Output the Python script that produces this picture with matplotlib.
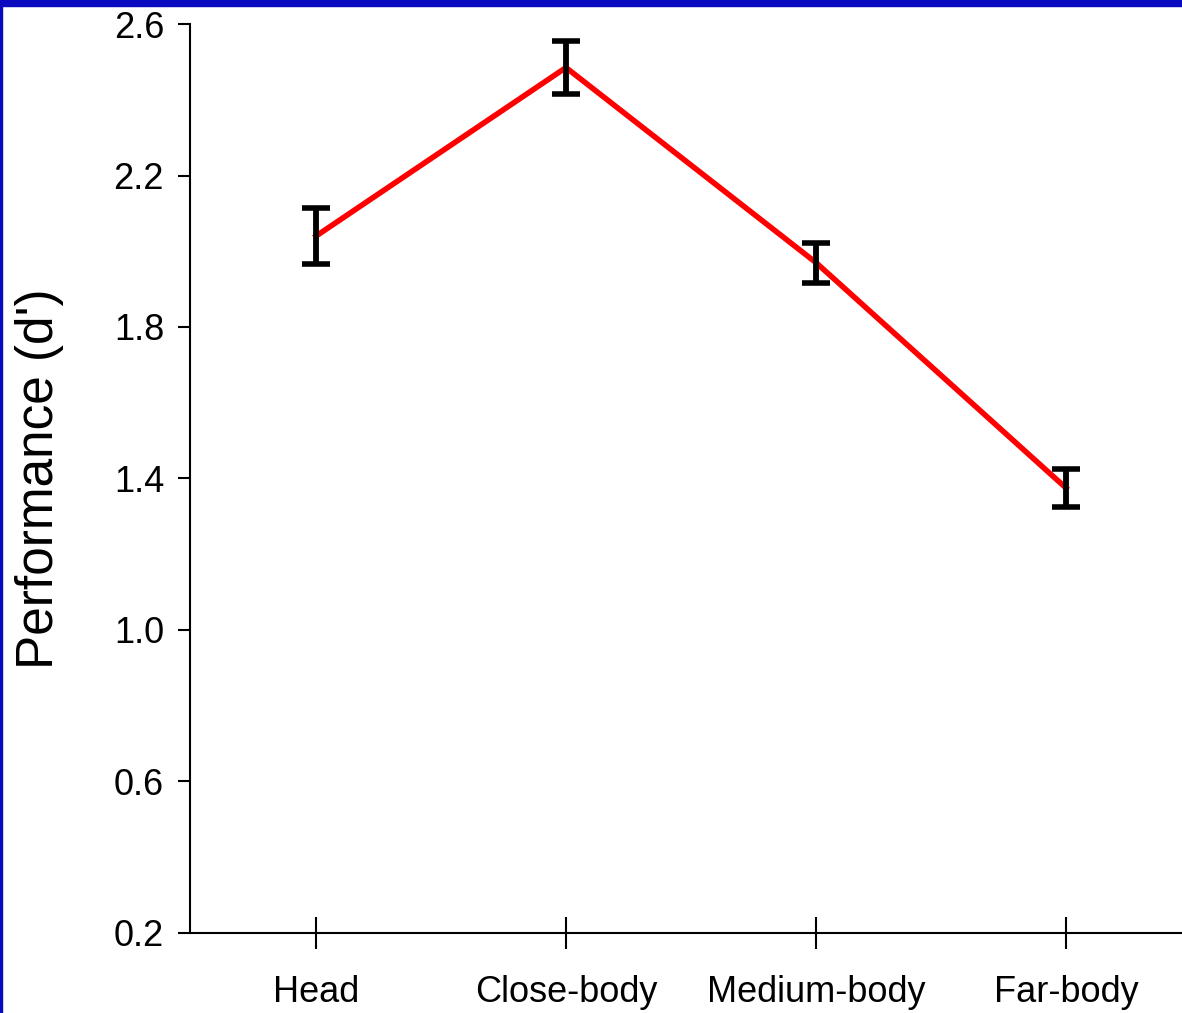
import numpy as np
import matplotlib.pyplot as plt
from matplotlib.patches import Rectangle

# data
conditions = ["Head", "Close-body", "Medium-body", "Far-body"]
performance = [2.04, 2.485, 1.97, 1.375]
sem = [0.073, 0.07, 0.053, 0.05]
y_ticks = [0.2, 0.6, 1.0, 1.4, 1.8, 2.2, 2.6]

plt.rcParams['font.family'] = ['Liberation Sans', 'DejaVu Sans']

fig = plt.figure(figsize=(11.82, 10.13), dpi=100)
ax = fig.add_axes([0.1607, 0.079, 0.8393, 0.8973])

x = np.arange(len(conditions))

# red line, then black error bars on top
ax.plot(x, performance, color='#ff0000', linewidth=4.0, zorder=2)
ax.errorbar(x, performance, yerr=sem, fmt='none', ecolor='black',
            elinewidth=4.2, capsize=9.8, capthick=4.0, zorder=3)

ax.set_xlim(-0.504, 3.464)
ax.set_ylim(0.2, 2.6)
ax.set_yticks(y_ticks)
ax.set_yticklabels(["%.1f" % v for v in y_ticks])
ax.set_xticks(x)
ax.set_xticklabels(conditions)

for side in ['top', 'right']:
    ax.spines[side].set_visible(False)
for side in ['left', 'bottom']:
    ax.spines[side].set_linewidth(1.5)

ax.tick_params(axis='y', direction='out', length=8.6, width=1.5, pad=10, labelsize=26)
ax.tick_params(axis='x', direction='inout', length=23, width=1.5, pad=19, labelsize=26)

ax.set_ylabel("Performance (d')", fontsize=37)
ax.yaxis.set_label_coords(-0.127, 0.5)

# blue slide frame on top and left edges
fig.patches.append(Rectangle((0, 1 - 6 / 1013), 1, 6 / 1013, transform=fig.transFigure,
                             color='#0a0ac0', zorder=10))
fig.patches.append(Rectangle((0, 0), 2 / 1182, 1, transform=fig.transFigure,
                             color='#0a0ac0', zorder=10))

fig.savefig("out.png", dpi=100)
